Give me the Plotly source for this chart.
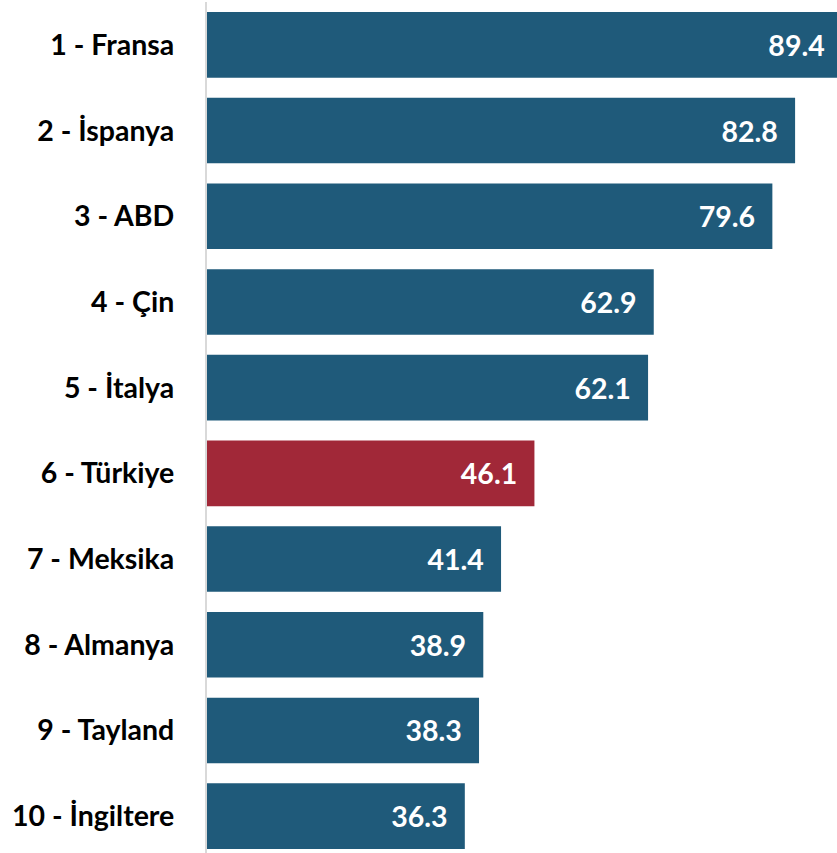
import plotly.graph_objects as go

countries = ["1 - Fransa", "2 - İspanya", "3 - ABD", "4 - Çin", "5 - İtalya",
             "6 - Türkiye", "7 - Meksika", "8 - Almanya", "9 - Tayland", "10 - İngiltere"]
values = [89.4, 82.8, 79.6, 62.9, 62.1, 46.1, 41.4, 38.9, 38.3, 36.3]
highlight = "6 - Türkiye"

BLUE = "#1F5A7A"
RED = "#A12838"
colors = [RED if c == highlight else BLUE for c in countries]

FONT = "Lato"
SIZE = 28.5

fig = go.Figure(go.Bar(
    x=values,
    y=countries,
    orientation="h",
    marker=dict(color=colors, line=dict(width=0)),
    text=[f"{v:.1f}\u2002" for v in values],
    textposition="inside",
    insidetextanchor="end",
    textangle=0,
    textfont=dict(family=FONT, size=SIZE, color="white", weight="bold"),
    cliponaxis=True,
    hoverinfo="skip",
))

fig.update_layout(
    width=837, height=853,
    margin=dict(l=207, r=0, t=2, b=0),
    paper_bgcolor="white", plot_bgcolor="white",
    bargap=0.235,
    showlegend=False,
)
fig.update_xaxes(range=[0, 88.7], visible=False, showgrid=False, zeroline=False)
fig.update_yaxes(
    type="category",
    range=[9.43, -0.5],
    showline=True, linecolor="#D9D9D9", linewidth=2,
    showgrid=False, zeroline=False,
    ticks="", ticklabelstandoff=25,
    tickfont=dict(family=FONT, size=SIZE, color="black", weight="bold"),
)

fig.write_html("out.html", config={"displayModeBar": False},
               post_script="document.body.style.margin='0';")
